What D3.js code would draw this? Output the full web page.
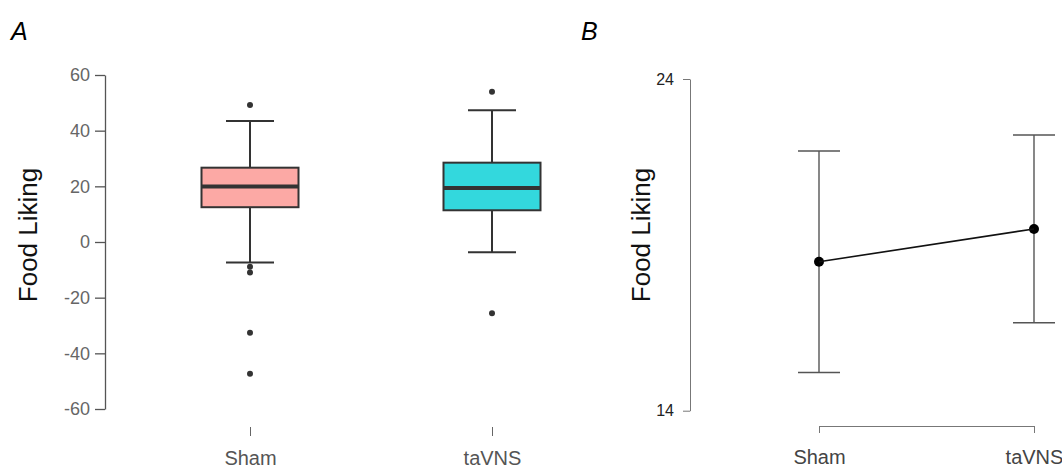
<!DOCTYPE html>
<html>
<head>
<meta charset="utf-8">
<script src="https://d3js.org/d3.v7.min.js"></script>
<style>
body { margin: 0; background: #fff; }
svg { font-family: "Liberation Sans", Arial, sans-serif; }
</style>
</head>
<body>
<script>
// panel A - box plot values
const groups = ["Sham", "taVNS"];
const q1 = [12.5, 11.4];
const median = [19.9, 19.4];
const q3 = [26.7, 28.5];
const whiskerLo = [-7.4, -3.7];
const whiskerHi = [43.5, 47.3];
const outliers = [[49.2, -8.9, -11.0, -32.6, -47.3], [54.0, -25.6]];
const boxFill = ["#fca9a5", "#33d8dd"];
const ticksA = [-60, -40, -20, 0, 20, 40, 60];

// panel B - means with error bars
const means = [18.49, 19.48];
const ciLo = [15.15, 16.65];
const ciHi = [21.83, 22.31];
const ticksB = [14, 24];

const width = 1062, height = 468;

var svg = d3.select("body").append("svg")
  .attr("width", width)
  .attr("height", height);

// ---------- panel A ----------
var yA = d3.scaleLinear().domain([-60, 60]).range([409, 75]);
var xA = d3.scalePoint().domain(groups).range([250, 492]);

// plain hyphen for negatives, like the original
var axA = svg.append("g")
  .attr("transform", "translate(105,0)")
  .call(d3.axisLeft(yA).tickValues(ticksA).tickFormat(d => String(d))
    .tickSize(10).tickSizeOuter(0).tickPadding(5));
axA.select(".domain").attr("stroke", "#555").attr("stroke-width", 1.3);
axA.selectAll(".tick line").attr("stroke", "#555").attr("stroke-width", 1.3);
axA.selectAll(".tick text").attr("fill", "#666").attr("font-size", 18);

var bxA = svg.append("g")
  .attr("transform", "translate(0,427)")
  .call(d3.axisBottom(xA).tickSize(9).tickPadding(15));
bxA.select(".domain").remove();
bxA.selectAll(".tick line").attr("stroke", "#666");
bxA.selectAll(".tick text").attr("fill", "#555").attr("font-size", 20);

svg.append("text")
  .attr("transform", "translate(37,235) rotate(-90)")
  .attr("text-anchor", "middle")
  .attr("font-size", 26)
  .attr("fill", "#111")
  .text("Food Liking");

svg.append("text")
  .attr("x", 11).attr("y", 40)
  .attr("font-size", 25)
  .attr("font-style", "italic")
  .text("A");

const boxW = 97, capW = 48;
var box = svg.selectAll("g.box")
  .data(groups)
  .enter()
  .append("g")
  .attr("class", "box");

box.append("line")
  .attr("x1", d => xA(d)).attr("x2", d => xA(d))
  .attr("y1", (d, i) => yA(whiskerLo[i])).attr("y2", (d, i) => yA(whiskerHi[i]))
  .attr("stroke", "#333").attr("stroke-width", 2);
box.append("line")
  .attr("x1", d => xA(d) - capW / 2).attr("x2", d => xA(d) + capW / 2)
  .attr("y1", (d, i) => yA(whiskerHi[i])).attr("y2", (d, i) => yA(whiskerHi[i]))
  .attr("stroke", "#333").attr("stroke-width", 2);
box.append("line")
  .attr("x1", d => xA(d) - capW / 2).attr("x2", d => xA(d) + capW / 2)
  .attr("y1", (d, i) => yA(whiskerLo[i])).attr("y2", (d, i) => yA(whiskerLo[i]))
  .attr("stroke", "#333").attr("stroke-width", 2);
box.append("rect")
  .attr("x", d => xA(d) - boxW / 2)
  .attr("width", boxW)
  .attr("y", (d, i) => yA(q3[i]))
  .attr("height", (d, i) => yA(q1[i]) - yA(q3[i]))
  .attr("fill", (d, i) => boxFill[i])
  .attr("stroke", "#333").attr("stroke-width", 2);
box.append("line")
  .attr("x1", d => xA(d) - boxW / 2).attr("x2", d => xA(d) + boxW / 2)
  .attr("y1", (d, i) => yA(median[i])).attr("y2", (d, i) => yA(median[i]))
  .attr("stroke", "#333").attr("stroke-width", 4);
box.each(function (d, i) {
  d3.select(this).selectAll("circle")
    .data(outliers[i])
    .enter()
    .append("circle")
    .attr("cx", xA(d))
    .attr("cy", v => yA(v))
    .attr("r", 3)
    .attr("fill", "#333");
});

// ---------- panel B ----------
var yB = d3.scaleLinear().domain([14, 24]).range([410.7, 79]);
var xB = d3.scalePoint().domain(groups).range([819, 1034]);

var axB = svg.append("g")
  .attr("transform", "translate(690,0)")
  .call(d3.axisLeft(yB).tickValues(ticksB).tickSize(7).tickSizeOuter(0).tickPadding(9));
axB.select(".domain").attr("stroke", "#777");
axB.selectAll(".tick line").attr("stroke", "#777");
axB.selectAll(".tick text").attr("fill", "#222").attr("font-size", 16);

var bxB = svg.append("g")
  .attr("transform", "translate(0,426)")
  .call(d3.axisBottom(xB).tickSize(7).tickSizeOuter(0).tickPadding(17));
bxB.select(".domain").attr("stroke", "#777");
bxB.selectAll(".tick line").attr("stroke", "#777");
bxB.selectAll(".tick text").attr("fill", "#444").attr("font-size", 20);

svg.append("text")
  .attr("transform", "translate(650,235) rotate(-90)")
  .attr("text-anchor", "middle")
  .attr("font-size", 26)
  .attr("fill", "#111")
  .text("Food Liking");

svg.append("text")
  .attr("x", 581).attr("y", 40)
  .attr("font-size", 25)
  .attr("font-style", "italic")
  .text("B");

const errCap = 42;
var eb = svg.selectAll("g.err")
  .data(groups)
  .enter()
  .append("g")
  .attr("class", "err");
eb.append("line")
  .attr("x1", d => xB(d)).attr("x2", d => xB(d))
  .attr("y1", (d, i) => yB(ciLo[i])).attr("y2", (d, i) => yB(ciHi[i]))
  .attr("stroke", "#555").attr("stroke-width", 1.4);
eb.append("line")
  .attr("x1", d => xB(d) - errCap / 2).attr("x2", d => xB(d) + errCap / 2)
  .attr("y1", (d, i) => yB(ciHi[i])).attr("y2", (d, i) => yB(ciHi[i]))
  .attr("stroke", "#555").attr("stroke-width", 1.4);
eb.append("line")
  .attr("x1", d => xB(d) - errCap / 2).attr("x2", d => xB(d) + errCap / 2)
  .attr("y1", (d, i) => yB(ciLo[i])).attr("y2", (d, i) => yB(ciLo[i]))
  .attr("stroke", "#555").attr("stroke-width", 1.4);

svg.append("path")
  .datum(groups)
  .attr("d", d3.line().x(d => xB(d)).y((d, i) => yB(means[i])))
  .attr("fill", "none")
  .attr("stroke", "#111")
  .attr("stroke-width", 1.6);

eb.append("circle")
  .attr("cx", d => xB(d))
  .attr("cy", (d, i) => yB(means[i]))
  .attr("r", 5)
  .attr("fill", "#000");
</script>
</body>
</html>
